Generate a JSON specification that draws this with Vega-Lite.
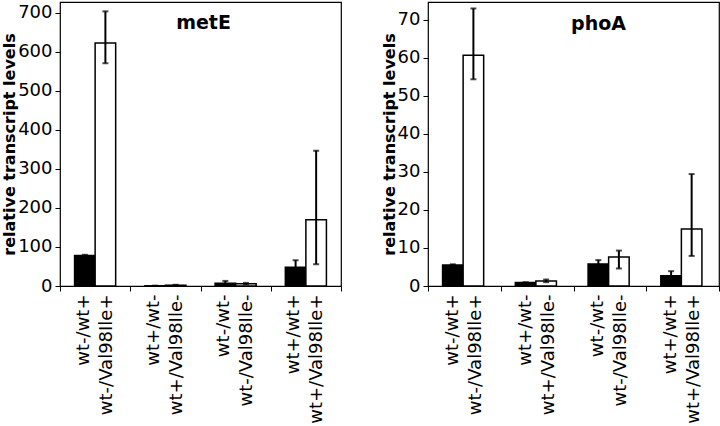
{
  "$schema": "https://vega.github.io/schema/vega-lite/v6.json",
  "padding": {"left": 1, "top": 1, "right": 0, "bottom": 0},
  "background": "white",
  "config": {
    "font": "DejaVu Sans",
    "view": {"stroke": "black", "strokeWidth": 1.2},
    "axis": {"domain": false, "grid": false, "tickColor": "black", "labelColor": "black", "titleColor": "black", "labelFont": "DejaVu Sans", "titleFont": "DejaVu Sans"},
    "axisY": {"labelFontSize": 18, "tickSize": 5, "labelPadding": 3, "titleFontSize": 16, "titleFontWeight": "bold", "titlePadding": 0, "labelFlush": false, "labelOverlap": false},
    "axisX": {"labelFontSize": 18, "tickSize": 5, "labelPadding": 3, "labelAngle": -90, "labelAlign": "right", "labelBaseline": "middle", "labelLineHeight": 23, "labelOffset": -12, "tickBand": "extent", "labelOverlap": false}
  },
  "datasets": {
    "expr": [
      {"gene": "metE", "group": "wt-/wt+|wt-/Val98Ile+", "variant": "wt", "value": 78, "lo": 75, "hi": 80},
      {"gene": "metE", "group": "wt-/wt+|wt-/Val98Ile+", "variant": "Val98Ile", "value": 623, "lo": 571, "hi": 704},
      {"gene": "metE", "group": "wt+/wt-|wt+/Val98Ile-", "variant": "wt", "value": 0.5, "lo": 0.3, "hi": 0.7},
      {"gene": "metE", "group": "wt+/wt-|wt+/Val98Ile-", "variant": "Val98Ile", "value": 2, "lo": 1, "hi": 3},
      {"gene": "metE", "group": "wt-/wt-|wt-/Val98Ile-", "variant": "wt", "value": 7, "lo": 2, "hi": 13},
      {"gene": "metE", "group": "wt-/wt-|wt-/Val98Ile-", "variant": "Val98Ile", "value": 6, "lo": 4, "hi": 8},
      {"gene": "metE", "group": "wt+/wt+|wt+/Val98Ile+", "variant": "wt", "value": 48, "lo": 31, "hi": 66},
      {"gene": "metE", "group": "wt+/wt+|wt+/Val98Ile+", "variant": "Val98Ile", "value": 170, "lo": 56, "hi": 347},
      {"gene": "phoA", "group": "wt-/wt+|wt-/Val98Ile+", "variant": "wt", "value": 5.5, "lo": 5.3, "hi": 5.7},
      {"gene": "phoA", "group": "wt-/wt+|wt-/Val98Ile+", "variant": "Val98Ile", "value": 60.6, "lo": 54.3, "hi": 72.9},
      {"gene": "phoA", "group": "wt+/wt-|wt+/Val98Ile-", "variant": "wt", "value": 0.9, "lo": 0.8, "hi": 1.0},
      {"gene": "phoA", "group": "wt+/wt-|wt+/Val98Ile-", "variant": "Val98Ile", "value": 1.3, "lo": 1.0, "hi": 1.7},
      {"gene": "phoA", "group": "wt-/wt-|wt-/Val98Ile-", "variant": "wt", "value": 5.8, "lo": 4.8, "hi": 6.8},
      {"gene": "phoA", "group": "wt-/wt-|wt-/Val98Ile-", "variant": "Val98Ile", "value": 7.6, "lo": 4.6, "hi": 9.3},
      {"gene": "phoA", "group": "wt+/wt+|wt+/Val98Ile+", "variant": "wt", "value": 2.7, "lo": 1.5, "hi": 3.9},
      {"gene": "phoA", "group": "wt+/wt+|wt+/Val98Ile+", "variant": "Val98Ile", "value": 15, "lo": 7.9, "hi": 29.4}
    ]
  },
  "spacing": 37,
  "hconcat": [
    {
      "width": 281,
      "height": 284,
      "title": {"text": "metE", "offset": -31, "fontSize": 19, "fontWeight": "bold", "font": "DejaVu Sans", "color": "black", "dx": 3, "anchor": "middle", "frame": "group"},
      "data": {"name": "expr"},
      "transform": [{"filter": "datum.gene === 'metE'"}],
      "encoding": {
        "x": {"field": "group", "type": "nominal", "sort": null, "scale": {"paddingInner": 0, "paddingOuter": 0}, "axis": {"title": null, "labelExpr": "split(datum.label, '|')"}},
        "xOffset": {"field": "variant", "type": "nominal", "sort": ["wt", "Val98Ile"], "scale": {"paddingInner": 0, "paddingOuter": 0.71}}
      },
      "layer": [
        {
          "mark": {"type": "bar", "stroke": "black", "strokeWidth": 1.5},
          "encoding": {
            "y": {"field": "value", "type": "quantitative", "title": "relative transcript levels", "scale": {"domain": [0, 728], "nice": false, "zero": true}, "axis": {"values": [0, 100, 200, 300, 400, 500, 600, 700]}},
            "fill": {"field": "variant", "type": "nominal", "scale": {"domain": ["wt", "Val98Ile"], "range": ["black", "white"]}, "legend": null}
          }
        },
        {
          "mark": {"type": "rule", "strokeWidth": 2, "color": "black"},
          "encoding": {"y": {"field": "lo", "type": "quantitative", "title": "relative transcript levels"}, "y2": {"field": "hi"}}
        },
        {
          "mark": {"type": "tick", "orient": "horizontal", "size": 6, "thickness": 2, "color": "black"},
          "encoding": {"y": {"field": "hi", "type": "quantitative", "title": "relative transcript levels"}}
        },
        {
          "mark": {"type": "tick", "orient": "horizontal", "size": 6, "thickness": 2, "color": "black"},
          "encoding": {"y": {"field": "lo", "type": "quantitative", "title": "relative transcript levels"}}
        }
      ]
    },
    {
      "width": 291,
      "height": 284,
      "title": {"text": "phoA", "offset": -32, "fontSize": 19, "fontWeight": "bold", "font": "DejaVu Sans", "color": "black", "dx": 25, "anchor": "middle", "frame": "group"},
      "data": {"name": "expr"},
      "transform": [{"filter": "datum.gene === 'phoA'"}],
      "encoding": {
        "x": {"field": "group", "type": "nominal", "sort": null, "scale": {"paddingInner": 0, "paddingOuter": 0}, "axis": {"title": null, "labelExpr": "split(datum.label, '|')"}},
        "xOffset": {"field": "variant", "type": "nominal", "sort": ["wt", "Val98Ile"], "scale": {"paddingInner": 0, "paddingOuter": 0.73}}
      },
      "layer": [
        {
          "mark": {"type": "bar", "stroke": "black", "strokeWidth": 1.5},
          "encoding": {
            "y": {"field": "value", "type": "quantitative", "title": "relative transcript levels", "scale": {"domain": [0, 74.6], "nice": false, "zero": true}, "axis": {"values": [0, 10, 20, 30, 40, 50, 60, 70]}},
            "fill": {"field": "variant", "type": "nominal", "scale": {"domain": ["wt", "Val98Ile"], "range": ["black", "white"]}, "legend": null}
          }
        },
        {
          "mark": {"type": "rule", "strokeWidth": 2, "color": "black"},
          "encoding": {"y": {"field": "lo", "type": "quantitative", "title": "relative transcript levels"}, "y2": {"field": "hi"}}
        },
        {
          "mark": {"type": "tick", "orient": "horizontal", "size": 6, "thickness": 2, "color": "black"},
          "encoding": {"y": {"field": "hi", "type": "quantitative", "title": "relative transcript levels"}}
        },
        {
          "mark": {"type": "tick", "orient": "horizontal", "size": 6, "thickness": 2, "color": "black"},
          "encoding": {"y": {"field": "lo", "type": "quantitative", "title": "relative transcript levels"}}
        }
      ]
    }
  ]
}
